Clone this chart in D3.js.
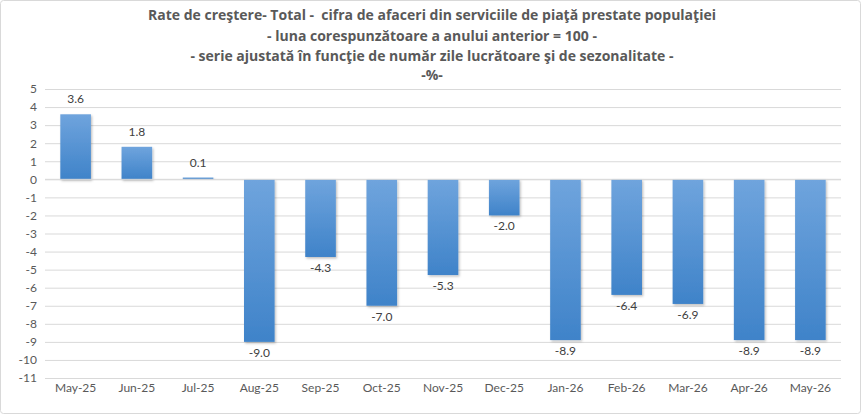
<!DOCTYPE html>
<html><head><meta charset="utf-8">
<script src="https://cdn.jsdelivr.net/npm/d3@7"></script>
<style>body{margin:0;background:#fff}svg{display:block}</style>
</head><body>
<svg id="c" width="861" height="414"></svg>
<script>
const categories = ["May-25","Jun-25","Jul-25","Aug-25","Sep-25","Oct-25","Nov-25","Dec-25","Jan-26","Feb-26","Mar-26","Apr-26","May-26"];
const values = [3.6, 1.8, 0.1, -9.0, -4.3, -7.0, -5.3, -2.0, -8.9, -6.4, -6.9, -8.9, -8.9];
const yTicks = [5,4,3,2,1,0,-1,-2,-3,-4,-5,-6,-7,-8,-9,-10,-11];
const titleLines = ["Rate de creştere- Total -  cifra de afaceri din serviciile de piaţă prestate populaţiei",
  "- luna corespunzătoare a anului anterior = 100 -",
  "- serie ajustată în funcţie de număr zile lucrătoare şi de sezonalitate -",
  "-%-"];

const svg = d3.select("#c");
const W = 861, H = 414;
const font = "Lato, 'Open Sans', sans-serif";
const hy = s => s.replace(/\u2212/g, "-");
const defs = svg.append("defs");
const g1 = defs.append("linearGradient").attr("id","bg").attr("x1",0).attr("y1",0).attr("x2",0).attr("y2",1);
g1.append("stop").attr("offset","0%").attr("stop-color","#6fa4dd");
g1.append("stop").attr("offset","100%").attr("stop-color","#3f83c9");
const f = defs.append("filter").attr("id","sh").attr("x","-20%").attr("y","-20%").attr("width","140%").attr("height","140%");
f.append("feDropShadow").attr("dx",1.2).attr("dy",1.5).attr("stdDeviation",1.2).attr("flood-color","#000").attr("flood-opacity",0.25);

svg.append("rect").attr("x",0.5).attr("y",0.5).attr("width",W-1).attr("height",H-1).attr("rx",3)
  .attr("fill","#fff").attr("stroke","#d9d9d9");

const x = d3.scaleBand().domain(categories).range([45, 841]).paddingInner(0.5).paddingOuter(0.25);
const y = d3.scaleLinear().domain([-11, 5]).range([378, 89]);

// title
svg.append("g").selectAll("text").data(titleLines).join("text")
  .attr("x", 432).attr("y",(d,i)=>[20,41,61,80][i])
  .attr("text-anchor","middle").attr("font-family","'Open Sans', sans-serif").attr("font-weight","bold")
  .attr("font-size",14).attr("fill","#595959").style("white-space","pre").text(d=>d);

// grid
const yAxis = d3.axisLeft(y).tickValues(yTicks).tickSize(-(841-45)).tickFormat(d=>hy(d3.format("d")(d)));
const ga = svg.append("g").attr("transform","translate(45,0)").call(yAxis);
ga.select(".domain").remove();
ga.selectAll(".tick line").attr("stroke","#d9d9d9").attr("stroke-width",1);
ga.selectAll(".tick text").attr("x",-8).attr("font-family",font).attr("font-size",12).attr("fill","#595959");

// bars
svg.append("g").selectAll("rect").data(values).join("rect")
  .attr("x",(d,i)=>x(categories[i]))
  .attr("width",x.bandwidth())
  .attr("y",d=>d>=0?y(d):y(0))
  .attr("height",d=>Math.max(1,Math.abs(y(d)-y(0))))
  .attr("fill","url(#bg)").attr("filter","url(#sh)");

// zero line
svg.append("line").attr("x1",45).attr("x2",841).attr("y1",y(0)).attr("y2",y(0)).attr("stroke","#d9d9d9");

// labels
svg.append("g").selectAll("text").data(values).join("text")
  .attr("x",(d,i)=>x(categories[i])+x.bandwidth()/2)
  .attr("y",d=>d>=0?y(d)-11:y(d)+15)
  .attr("text-anchor","middle").attr("font-family",font).attr("font-size",12).attr("fill","#404040")
  .text(d=>hy(d3.format(".1f")(d)));

// x axis labels
const xAxis = d3.axisBottom(x).tickSize(0);
const gx = svg.append("g").attr("transform","translate(0,383)").call(xAxis);
gx.select(".domain").remove();
gx.selectAll(".tick text").attr("dy","0.71em").attr("y",0).attr("font-family",font).attr("font-size",12).attr("fill","#595959");
</script>
</body></html>
